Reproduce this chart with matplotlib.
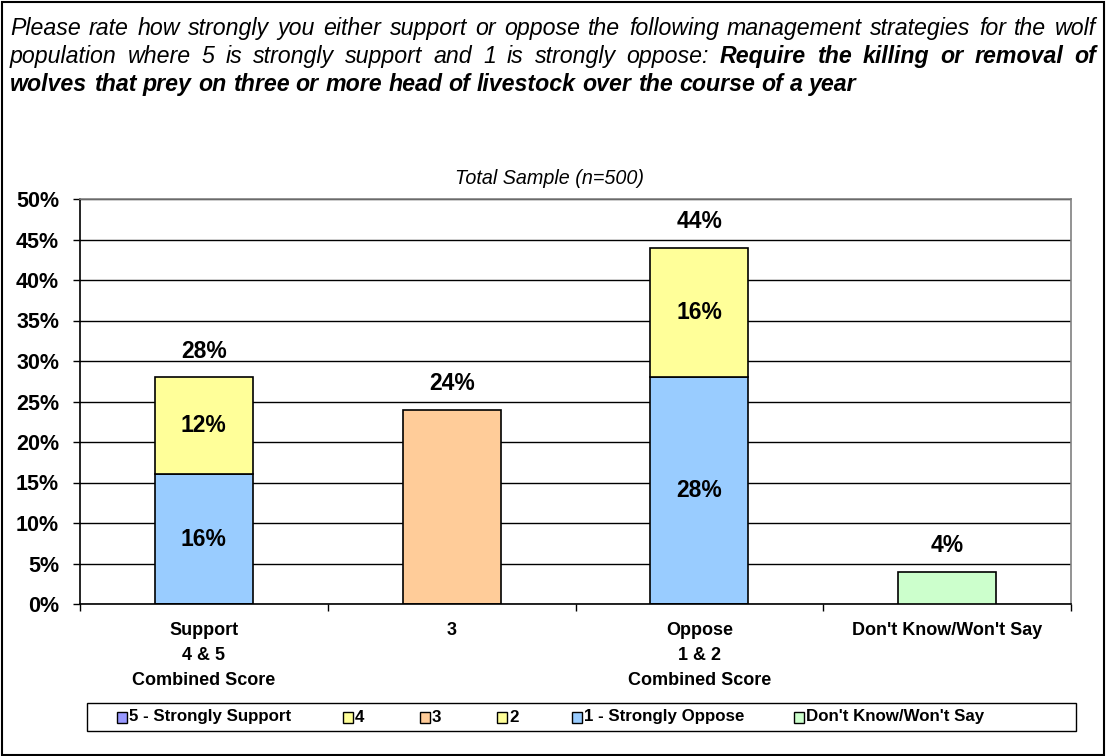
import matplotlib
matplotlib.use("Agg")
import matplotlib.pyplot as plt
from matplotlib.patches import Rectangle
import numpy as np

# ---------------- data ----------------
categories = ["Support\n4 & 5\nCombined Score", "3",
              "Oppose\n1 & 2\nCombined Score", "Don't Know/Won't Say"]
bottom_values = [16, 0, 28, 0]     # blue segments (strongest level)
top_values = [12, 0, 16, 0]        # yellow segments
neutral_values = [0, 24, 0, 0]     # orange "3"
dontknow_values = [0, 0, 0, 4]     # green
y_ticks = [0, 5, 10, 15, 20, 25, 30, 35, 40, 45, 50]
legend_labels = ["5 - Strongly Support", "4", "3", "2",
                 "1 - Strongly Oppose", "Don't Know/Won't Say"]
legend_colors = ["#9999FF", "#FFFF99", "#FFCC99", "#FFFF99", "#99CCFF", "#CCFFCC"]
subtitle = "Total Sample (n=500)"
title_line1 = "Please rate how strongly you either support or oppose the following management strategies for the wolf"
title_line2_normal = "population where 5 is strongly support and 1 is strongly oppose:"
title_line2_bold = "Require the killing or removal of"
title_line3 = "wolves that prey on three or more head of livestock over the course of a year"

BLUE = "#99CCFF"
YELLOW = "#FFFF99"
ORANGE = "#FFCC99"
GREEN = "#CCFFCC"

W, H = 1106, 756
FAM = ["Liberation Sans", "DejaVu Sans"]
plt.rcParams["font.family"] = FAM

fig = plt.figure(figsize=(W / 100, H / 100), dpi=100)
renderer = fig.canvas.get_renderer()

# outer border
fig.patches.append(Rectangle((1.5 / W, 1.5 / H), (W - 4) / W, (H - 3) / H,
                             transform=fig.transFigure, fill=False,
                             edgecolor="black", lw=1.5))

# ---------------- title (justified) ----------------
TFS = 16.7


def place_line(words, y_px, x0, x1, justify):
    texts, widths = [], []
    for w, wt in words:
        t = fig.text(0, 1 - y_px / H, w, fontsize=TFS, style="italic",
                     weight=wt, ha="left", va="baseline")
        bb = t.get_window_extent(renderer)
        texts.append(t)
        widths.append(bb.width)
    if justify:
        gap = (x1 - x0 - sum(widths)) / (len(words) - 1)
    else:
        gap = 0.278 * TFS * 100 / 72
    x = x0
    for t, w in zip(texts, widths):
        t.set_x(x / W)
        x += w + gap


line1 = [(w, "normal") for w in title_line1.split()]
line2 = [(w, "normal") for w in title_line2_normal.split()] + \
        [(w, "bold") for w in title_line2_bold.split()]
line3 = [(w, "bold") for w in title_line3.split()]
place_line(line1, 35, 10, 1096, True)
place_line(line2, 63, 10, 1096, True)
place_line(line3, 91, 10, 1096, False)

# ---------------- axes ----------------
ax_left, ax_right, ax_top, ax_bottom = 80, 1071, 199, 604
ax = fig.add_axes([ax_left / W, 1 - ax_bottom / H,
                   (ax_right - ax_left) / W, (ax_bottom - ax_top) / H])

x = np.arange(len(categories))
bw = 0.395
ax.bar(x, bottom_values, bw, color=BLUE, edgecolor="black", lw=1.2, zorder=3)
ax.bar(x, top_values, bw, bottom=bottom_values, color=YELLOW,
       edgecolor="black", lw=1.2, zorder=3)
ax.bar(x, neutral_values, bw, color=ORANGE, edgecolor="black", lw=1.2, zorder=3)
ax.bar(x, dontknow_values, bw, color=GREEN, edgecolor="black", lw=1.2, zorder=3)

totals = [b + t + n + d for b, t, n, d in zip(bottom_values, top_values,
                                               neutral_values, dontknow_values)]

DFS = 16.5
for i in range(len(categories)):
    if bottom_values[i] > 0 and top_values[i] > 0:
        ax.text(x[i], bottom_values[i] / 2, f"{bottom_values[i]}%", ha="center",
                va="center", fontsize=DFS, weight="bold", zorder=5)
        ax.text(x[i], bottom_values[i] + top_values[i] / 2, f"{top_values[i]}%",
                ha="center", va="center", fontsize=DFS, weight="bold", zorder=5)
    ax.annotate(f"{totals[i]}%", (x[i], totals[i]), xytext=(0, 18.5),
                textcoords="offset points", ha="center", va="center",
                fontsize=DFS, weight="bold", zorder=5)

ax.set_xlim(-0.5, len(categories) - 0.5)
ax.set_ylim(0, 50)
ax.set_yticks(y_ticks)
ax.set_yticklabels([f"{v}%" for v in y_ticks], fontsize=15.5, weight="bold")
ax.yaxis.grid(True, color="black", lw=1.0, zorder=0)
ax.set_axisbelow(True)

ax.set_xticks(x)
ax.set_xticklabels(categories, fontsize=13, weight="bold", linespacing=1.6)
ax.tick_params(axis="x", which="major", length=0, pad=13)
ax.set_xticks(np.arange(len(categories) + 1) - 0.5, minor=True)
ax.tick_params(axis="x", which="minor", length=5, width=1, direction="out")
ax.tick_params(axis="y", length=5, width=1, direction="out", pad=10)

for s in ["top", "right"]:
    ax.spines[s].set_color("#808080")
    ax.spines[s].set_linewidth(1.2)
for s in ["left", "bottom"]:
    ax.spines[s].set_color("black")
    ax.spines[s].set_linewidth(1.2)

fig.text(549.5 / W, 1 - 178 / H, subtitle, ha="center", va="center",
         fontsize=14.2, style="italic")

# ---------------- legend ----------------
leg_x0, leg_x1, leg_y0, leg_y1 = 87, 1076, 703, 731
fig.patches.append(Rectangle((leg_x0 / W, 1 - leg_y1 / H),
                             (leg_x1 - leg_x0) / W, (leg_y1 - leg_y0) / H,
                             transform=fig.transFigure, fill=False,
                             edgecolor="black", lw=1.0))
leg_xs = [117, 343, 420, 497, 572, 794]
ly = 717
for lx, lab, col in zip(leg_xs, legend_labels, legend_colors):
    fig.patches.append(Rectangle((lx / W, 1 - (ly + 5.5) / H), 10 / W, 11 / H,
                                 transform=fig.transFigure, facecolor=col,
                                 edgecolor="black", lw=1.0))
    fig.text((lx + 12) / W, 1 - ly / H, lab, ha="left", va="center",
             fontsize=12.2, weight="bold")

fig.savefig("out.png", dpi=100)
